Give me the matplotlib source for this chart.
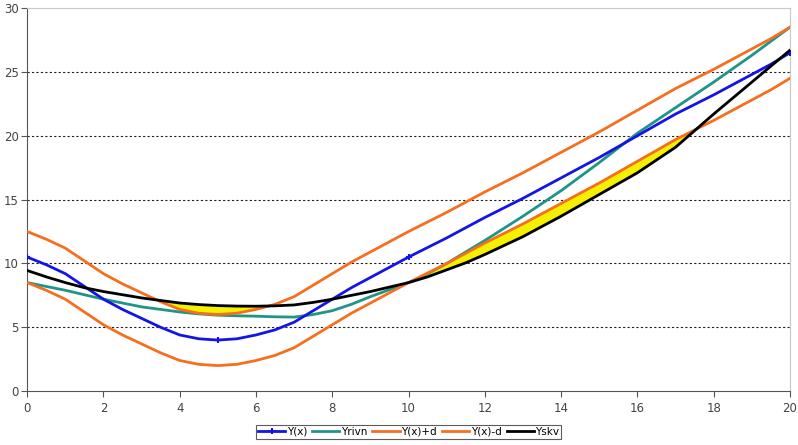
import matplotlib.pyplot as plt
import numpy as np

x = [i * 0.5 for i in range(41)]

# values (every 0.5 on x)
y_x = [10.5, 9.9, 9.2, 8.2, 7.2, 6.4, 5.7, 5.0, 4.4, 4.1,
       4.0, 4.1, 4.4, 4.8, 5.4, 6.3, 7.2, 8.1, 8.9, 9.7,
       10.5, 11.25, 12.0, 12.8, 13.6, 14.35, 15.1, 15.9, 16.7, 17.5,
       18.3, 19.15, 20.0, 20.85, 21.7, 22.45, 23.2, 24.0, 24.8, 25.6,
       26.5]
y_plus = [12.5, 11.9, 11.2, 10.2, 9.2, 8.4, 7.7, 7.0, 6.4, 6.1,
          6.0, 6.1, 6.4, 6.8, 7.4, 8.3, 9.2, 10.1, 10.9, 11.7,
          12.5, 13.25, 14.0, 14.8, 15.6, 16.35, 17.1, 17.9, 18.7, 19.5,
          20.3, 21.15, 22.0, 22.85, 23.7, 24.45, 25.2, 26.0, 26.8, 27.6,
          28.5]
y_minus = [8.5, 7.9, 7.2, 6.2, 5.2, 4.4, 3.7, 3.0, 2.4, 2.1,
           2.0, 2.1, 2.4, 2.8, 3.4, 4.3, 5.2, 6.1, 6.9, 7.7,
           8.5, 9.25, 10.0, 10.8, 11.6, 12.35, 13.1, 13.9, 14.7, 15.5,
           16.3, 17.15, 18.0, 18.85, 19.7, 20.45, 21.2, 22.0, 22.8, 23.6,
           24.5]
y_rivn = [8.5, 8.2, 7.9, 7.55, 7.2, 6.9, 6.6, 6.4, 6.2, 6.05,
          5.95, 5.9, 5.87, 5.82, 5.8, 6.0, 6.3, 6.8, 7.4, 7.95,
          8.5, 9.2, 10.0, 10.9, 11.8, 12.75, 13.7, 14.7, 15.7, 16.8,
          17.9, 19.05, 20.2, 21.2, 22.2, 23.2, 24.2, 25.25, 26.3, 27.4,
          28.5]
y_skv = [9.45, 8.95, 8.5, 8.1, 7.8, 7.55, 7.3, 7.1, 6.9, 6.78,
         6.7, 6.66, 6.65, 6.68, 6.75, 6.95, 7.2, 7.5, 7.8, 8.15,
         8.5, 8.95, 9.5, 10.05, 10.7, 11.4, 12.1, 12.9, 13.7, 14.55,
         15.4, 16.25, 17.1, 18.1, 19.1, 20.4, 21.7, 22.95, 24.2, 25.45,
         26.7]

marker_idx = [0, 10, 20, 40]

fig = plt.figure(figsize=(7.98, 4.45), dpi=100)
ax = fig.add_axes([0.034, 0.121, 0.956, 0.861])

xa = np.array(x)
skv = np.array(y_skv)
up = np.array(y_plus)
lo = np.array(y_minus)

# yellow where Yskv leaves the band
ax.fill_between(xa, up, skv, where=skv >= up, interpolate=True,
                color='#f4f000', linewidth=0, zorder=1)
ax.fill_between(xa, lo, skv, where=skv <= lo, interpolate=True,
                color='#f4f000', linewidth=0, zorder=1)

ax.plot(x, y_x, color='#1414e6', lw=2, marker='+', markersize=5,
        markeredgewidth=1.5, markevery=marker_idx, label='Y(x)', zorder=4)
ax.plot(x, y_rivn, color='#1f9488', lw=2, label='Yrivn', zorder=3)
ax.plot(x, y_plus, color='#f56f1e', lw=2, label='Y(x)+d', zorder=3)
ax.plot(x, y_minus, color='#f56f1e', lw=2, label='Y(x)-d', zorder=3)
ax.plot(x, y_skv, color='black', lw=2, label='Yskv', zorder=5)

ax.set_xlim(0, 20)
ax.set_ylim(0, 30)
ax.set_xticks(range(0, 21, 2))
ax.set_yticks(range(0, 31, 5))
for v in range(5, 30, 5):
    ax.axhline(v, color='#222222', lw=0.8, ls=(0, (2, 2)), zorder=0)

ax.spines['top'].set_color('#c8c8c8')
ax.spines['right'].set_color('#c8c8c8')
ax.spines['left'].set_color('#555555')
ax.spines['bottom'].set_color('#555555')
ax.tick_params(axis='both', direction='out', length=4, width=0.8,
               colors='#555555', labelsize=8.5, labelcolor='#444444')
ax.tick_params(axis='x', pad=4)
ax.tick_params(axis='y', pad=2)

leg = ax.legend(loc='upper center', bbox_to_anchor=(0.5, -0.088), ncol=5,
                fontsize=7.5, frameon=True, fancybox=False, handlelength=2.6,
                columnspacing=0.5, handletextpad=0.15, borderpad=0.2,
                borderaxespad=0)
leg.get_frame().set_edgecolor('#333333')
leg.get_frame().set_linewidth(0.8)

plt.savefig('out.png', dpi=100)
